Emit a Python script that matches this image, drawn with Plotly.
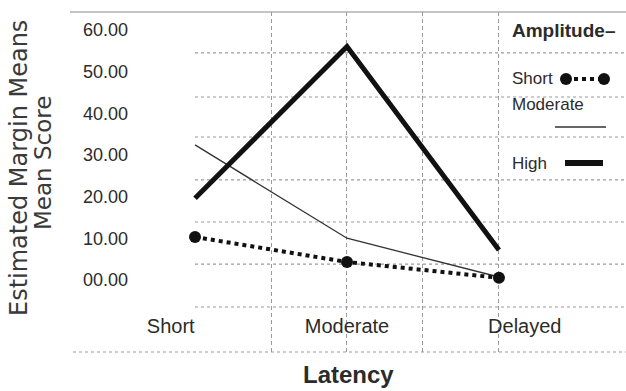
import plotly.graph_objects as go

# ---- data ----
latency = ["Short", "Moderate", "Delayed"]
latency_pos = [0, 1, 2]
short_amp = [10.3, 4.3, 0.5]
moderate_amp = [32.4, 10.0, 0.7]
high_amp = [19.6, 56.0, 7.2]
ytick_vals = [0, 10, 20, 30, 40, 50, 60]
ytick_text = ["00.00", "10.00", "20.00", "30.00", "40.00", "50.00", "60.00"]
xlabel_pos = [-0.16, 1.0, 2.17]
hgrid_vals = [54.5, 43.9, 34.3, 24.0, 13.9, 3.8, -6.5]
vgrid_vals = [0.5, 1.0, 1.5, 2.0]
ytitle_lines = ["Estimated Margin Means", "Mean Score"]
xtitle = "Latency"
legend_title = "Amplitude–"
legend_names = ["Short", "Moderate", "High"]

W, H = 626, 391
ML, MR, MT, MB = 135, 0, 12, 39
PW, PH = W - ML - MR, H - MT - MB
XR = [-0.395, 2.836]
YR = [-17.3, 64.3]

FONT = "Liberation Sans, Arial"
TXT = "#2b2b2b"
GRID = "#9a9a9a"


def px(x):
    return (x - ML) / PW


def py(y):
    return (H - MB - y) / PH


fig = go.Figure()

fig.add_trace(go.Scatter(x=latency_pos, y=moderate_amp, mode="lines",
                         line=dict(color="#333333", width=1.3), showlegend=False))
fig.add_trace(go.Scatter(x=latency_pos, y=short_amp, mode="lines+markers",
                         line=dict(color="#111111", width=4, dash="dot"),
                         marker=dict(size=12, color="#111111"), showlegend=False))
fig.add_trace(go.Scatter(x=latency_pos, y=high_amp, mode="lines",
                         line=dict(color="#111111", width=5), showlegend=False))

shapes = []
for v in hgrid_vals:
    shapes.append(dict(type="line", xref="x", yref="y", x0=0, x1=XR[1], y0=v, y1=v,
                       line=dict(color=GRID, width=1.2, dash="dot"), layer="below"))
# top and bottom frame lines
shapes.append(dict(type="line", xref="paper", yref="paper", x0=px(70), x1=1, y0=1, y1=1,
                   line=dict(color="#8a8a8a", width=1.2), layer="below"))
shapes.append(dict(type="line", xref="paper", yref="paper", x0=px(73), x1=1, y0=0, y1=0,
                   line=dict(color=GRID, width=1.2, dash="dot"), layer="below"))

# legend samples
ly_short, ly_mod, ly_high = py(79), py(127), py(163)
shapes.append(dict(type="line", xref="paper", yref="paper", x0=px(566), x1=px(604),
                   y0=ly_short, y1=ly_short, line=dict(color="#111111", width=4, dash="dot")))
for cx in (566, 604):
    shapes.append(dict(type="circle", xref="paper", yref="paper", xsizemode="pixel",
                       ysizemode="pixel", xanchor=px(cx), yanchor=ly_short,
                       x0=-6, x1=6, y0=-6, y1=6, fillcolor="#111111",
                       line=dict(color="#111111", width=0)))
shapes.append(dict(type="line", xref="paper", yref="paper", x0=px(555), x1=px(606),
                   y0=ly_mod, y1=ly_mod, line=dict(color="#333333", width=1.3)))
shapes.append(dict(type="line", xref="paper", yref="paper", x0=px(565), x1=px(603),
                   y0=ly_high, y1=ly_high, line=dict(color="#111111", width=6)))

annotations = [
    dict(text=legend_title, xref="paper", yref="paper", x=px(510), y=py(30),
         xanchor="left", yanchor="middle", showarrow=False,
         font=dict(family=FONT, size=19, color=TXT, weight="bold")),
    dict(text=legend_names[0], xref="paper", yref="paper", x=px(510), y=py(79),
         xanchor="left", yanchor="middle", showarrow=False,
         font=dict(family=FONT, size=17, color=TXT)),
    dict(text=legend_names[1], xref="paper", yref="paper", x=px(510), y=py(104),
         xanchor="left", yanchor="middle", showarrow=False,
         font=dict(family=FONT, size=17, color=TXT)),
    dict(text=legend_names[2], xref="paper", yref="paper", x=px(510), y=py(163),
         xanchor="left", yanchor="middle", showarrow=False,
         font=dict(family=FONT, size=17, color=TXT)),
    dict(text=xtitle, xref="paper", yref="paper", x=px(348), y=py(374),
         xanchor="center", yanchor="middle", showarrow=False,
         font=dict(family=FONT, size=24, color=TXT, weight="bold")),
    dict(text=ytitle_lines[0], xref="paper", yref="paper", x=px(19), y=py(168),
         xanchor="center", yanchor="middle", showarrow=False, textangle=-90,
         font=dict(family="DejaVu Sans", size=24, color="#3a3a3a")),
    dict(text=ytitle_lines[1], xref="paper", yref="paper", x=px(43), y=py(163),
         xanchor="center", yanchor="middle", showarrow=False, textangle=-90,
         font=dict(family="DejaVu Sans", size=23, color="#3a3a3a")),
]

fig.update_layout(
    width=W, height=H,
    margin=dict(l=ML, r=MR, t=MT, b=MB, autoexpand=False),
    paper_bgcolor="white", plot_bgcolor="white",
    shapes=shapes, annotations=annotations,
    xaxis=dict(range=XR, showgrid=False, zeroline=False, showline=False,
               automargin=False,
               tickvals=xlabel_pos, ticktext=latency, ticks="",
               ticklabelposition="inside", ticklabelstandoff=12,
               tickfont=dict(family=FONT, size=20, color=TXT),
               minor=dict(tickvals=vgrid_vals, showgrid=True, gridcolor=GRID,
                          griddash="4px,3px", gridwidth=1.2, ticks="")),
    yaxis=dict(range=YR, showgrid=False, zeroline=False, showline=False,
               automargin=False,
               tickvals=ytick_vals, ticktext=ytick_text, ticks="",
               ticklabelstandoff=6,
               tickfont=dict(family=FONT, size=18, color=TXT)),
)

fig.write_html("out.html", config={"displayModeBar": False},
               post_script="document.body.style.margin='0';")
